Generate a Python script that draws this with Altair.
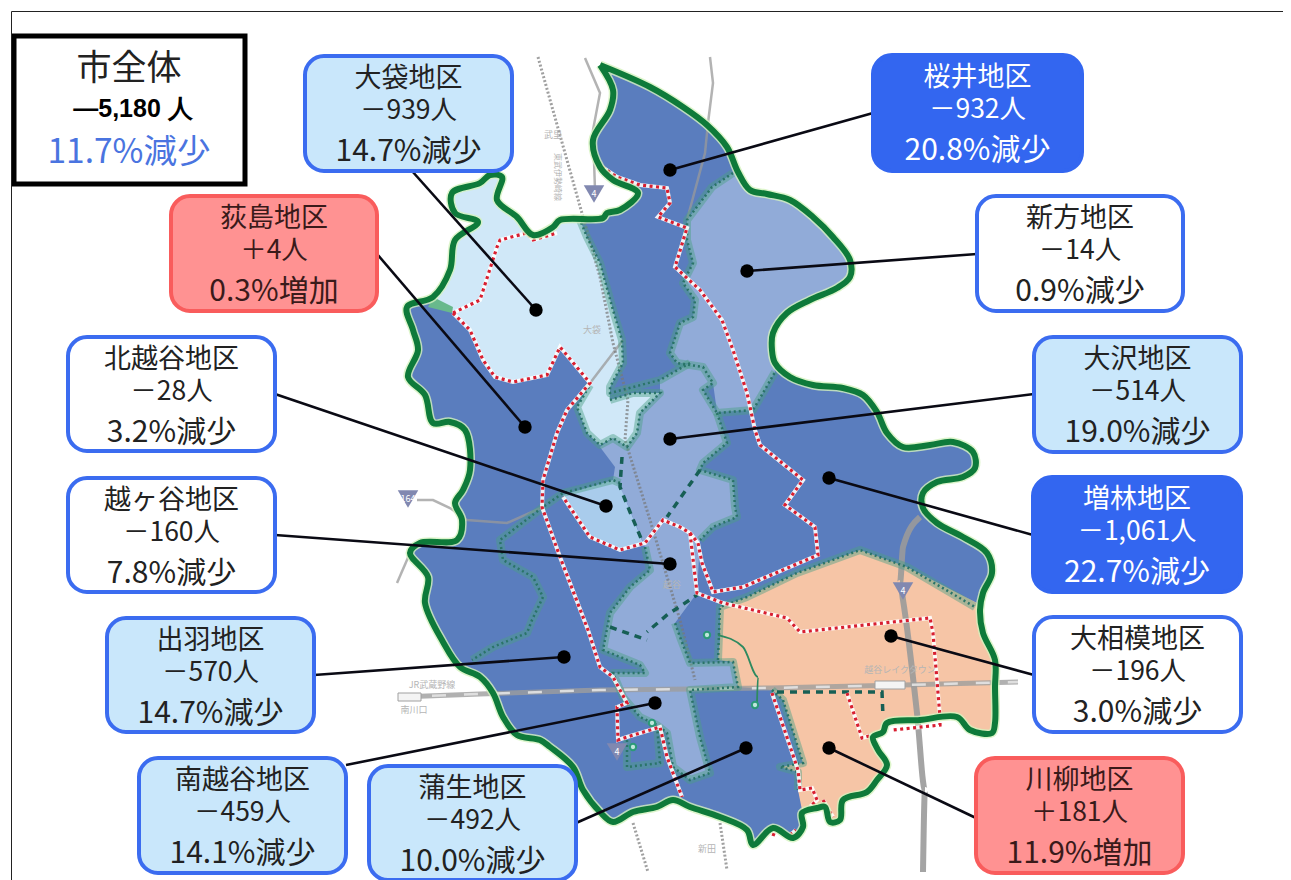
import altair as alt
import pandas as pd

# ---------- map shapes (picture pixel coordinates) ----------
city_outline = [(600,65),(650,87),(683,107),(707,125),(727,147),(738,172),(750,190),(767,194),(790,200),(813,217),(833,237),(850,260),(850,277),(837,288),(810,300),(787,313),(773,333),(772,350),(775,363),(790,377),(813,385),(843,388),(863,395),(877,412),(887,433),(903,447),(930,445),(953,442),(973,452),(975,468),(963,477),(937,482),(923,493),(923,508),(937,523),(963,537),(987,553),(992,573),(983,593),(980,610),(983,633),(995,660),(995,687),(995,723),(992,733),(970,730),(957,717),(920,720),(887,723),(883,732),(873,737),(878,750),(887,765),(877,780),(867,792),(843,800),(840,820),(830,822),(825,807),(817,808),(802,813),(803,827),(793,838),(773,828),(753,845),(747,830),(720,817),(690,807),(673,800),(657,807),(633,812),(613,822),(600,812),(583,790),(573,767),(550,747),(540,740),(517,735),(503,717),(493,693),(480,677),(460,667),(443,642),(425,603),(428,577),(410,553),(420,543),(457,540),(462,520),(455,503),(463,490),(470,470),(465,430),(450,422),(433,423),(425,395),(408,377),(418,350),(413,330),(407,307),(433,297),(450,270),(455,240),(478,222),(455,213),(452,193),(480,183),(490,175),(502,177),(497,200),(517,217),(533,235),(553,227),(560,220),(603,218),(607,213),(620,210),(638,193),(613,180),(600,167),(593,140),(610,110),(613,90)]
oobukuro = [(433,297),(450,270),(455,240),(478,222),(455,213),(452,193),(480,183),(490,175),(502,177),(497,200),(517,217),(533,235),(553,227),(560,220),(580,220),(587,237),(600,263),(613,310),(622,340),(623,363),(610,387),(610,400),(633,393),(660,393),(640,413),(637,433),(627,447),(613,438),(600,445),(587,433),(577,407),(590,385),(560,347),(547,375),(513,382),(495,377),(483,360),(470,330),(453,313)]
kitakoshigaya = [(563,495),(613,480),(620,483),(627,503),(643,543),(620,550),(590,537)]
niikata = [(733,173),(750,190),(767,194),(790,200),(813,217),(833,237),(850,260),(850,277),(837,288),(810,300),(787,313),(773,333),(772,350),(775,372),(763,393),(753,410),(717,412),(713,383),(703,367),(690,363),(677,363),(670,353),(680,323),(693,317),(695,300),(683,283),(693,263),(687,240),(687,220),(712,187)]
central = [(660,380),(690,363),(703,367),(713,383),(703,390),(717,413),(727,443),(703,463),(700,470),(733,480),(735,507),(737,517),(713,527),(700,540),(697,593),(675,623),(680,637),(690,663),(733,662),(738,687),(690,690),(700,737),(710,773),(690,780),(673,767),(667,733),(657,725),(640,717),(623,697),(613,673),(645,673),(640,665),(603,650),(610,613),(630,587),(650,570),(645,547),(627,503),(620,487),(613,480),(615,467),(600,447),(613,438),(627,447),(637,433),(640,413),(660,393)]
oosagami = [(720,607),(747,597),(797,573),(860,550),(907,567),(977,603),(983,633),(995,660),(995,687),(995,723),(992,733),(970,730),(957,717),(920,720),(887,723),(883,732),(873,737),(878,750),(887,765),(877,780),(867,792),(843,800),(840,820),(830,822),(825,807),(817,808),(802,810),(798,790),(798,772),(780,767),(803,763),(783,700),(772,690),(738,687),(733,662),(718,660),(720,640)]
river_sliver = [(820,220),(833,237),(847,258),(830,240)]
green_wedge = [(433,297),(453,307),(452,313),(428,307)]
region_shapes = [(city_outline,"#5A7DBE"),(oobukuro,"#D0E8F8"),(kitakoshigaya,"#A9CCEC"),(niikata,"#91ABD8"),(central,"#91ABD8"),(oosagami,"#F6C5A6"),(river_sliver,"#1C9FD8"),(green_wedge,"#68B98C")]

thin_roads = [
 [(585,58),(600,93),(593,130),(595,190)],
 [(710,57),(713,83),(708,123),(705,153),(687,220)],
 [(397,583),(410,553)],
 [(417,500),(433,500),(450,508),(467,520),(507,523),(543,507)],
 [(587,387),(623,340)],
]
wide_roads = [[(920,517),(903,547),(900,583),(903,600),(917,713),(925,790),(923,872)]]
railways = [
 [(538,57),(583,217),(600,277),(613,343),(628,400),(625,440),(650,520),(680,620),(695,680)],
 [(720,823),(727,870)],
 [(633,823),(648,872)],
]
musashino = [[(400,697),(480,694),(600,690),(693,689),(770,688),(903,685),(1018,682)]]
inner_borders = [
 [(733,173),(712,187),(687,220),(687,240),(693,263),(683,283),(695,300),(693,317),(680,323),(670,353),(677,363),(703,367),(713,383),(703,390),(717,413),(753,410),(763,393),(775,372)],
 [(717,413),(727,443),(703,463),(700,470),(733,480),(735,507),(737,517),(713,527),(700,540)],
 [(690,363),(660,380),(610,393),(610,387),(623,363),(622,340),(613,310),(600,263),(587,237),(580,220)],
 [(610,400),(633,393),(660,393),(640,413),(637,433),(627,447),(613,438),(600,445),(587,433),(577,407),(590,385)],
 [(620,483),(613,480),(563,493),(543,507),(500,540),(503,560),(533,577),(543,597),(532,620),(527,633),(493,647),(472,660)],
 [(645,547),(650,570),(630,587),(610,613),(603,650),(640,665),(645,673),(613,673),(623,697),(640,717),(657,725),(667,733),(673,767),(690,780),(710,773),(700,737),(690,690),(738,687),(733,662),(690,663),(680,637),(675,623)],
 [(718,660),(720,607),(747,597),(797,573),(860,550),(907,567),(975,607)],
 [(772,690),(783,700),(803,763),(780,767),(798,772),(798,790)],
 [(627,740),(627,767),(660,763),(657,725)],
]
dashed_borders = [
 [(622,457),(620,487),(630,512),(643,543)],
 [(700,470),(667,517)],
 [(700,593),(667,615),(647,632)],
 [(610,627),(647,640)],
 [(777,692),(882,692),(883,717)],
]
red_borders = [
 [(453,313),(480,300),(497,247),(500,240),(527,233),(533,240),(557,233)],
 [(453,313),(470,330),(483,360),(495,377),(513,382),(547,375),(560,347),(590,383),(567,410),(557,433),(543,480),(542,507),(560,557),(588,630),(600,667),(613,677),(627,703),(617,707),(618,740),(627,737),(660,727),(667,757),(682,797)],
 [(602,167),(617,177),(640,185),(667,188),(670,203),(658,217),(687,228),(675,267),(700,290),(722,320),(733,350),(747,393),(755,430),(760,445),(803,480),(785,505),(815,527),(818,555),(743,587),(713,592),(702,563),(698,543),(690,533),(680,527),(663,520),(645,543),(620,550),(590,537),(563,497)],
 [(690,533),(697,593),(723,603),(787,618),(800,632),(930,618),(933,633),(940,717),(940,725),(893,730)],
 [(847,693),(862,738),(873,735)],
 [(772,693),(798,770),(800,790),(812,788),(817,800),(810,807)],
 [(823,800),(833,817)],
 [(773,836),(776,828)],[(790,835),(796,830)],
]
arc_line = [[(718,635),(743,647),(758,677),(757,703)]]
arc_nodes_x = [707,755,633,652]
arc_nodes_y = [635,705,747,723]
shield_x = [594,903,617,408]
shield_y = [194,591,752,499]
shield_text = ["4","4","4","164"]
ghost_labels = ["武里","大袋","JR武蔵野線","南川口","越谷レイクタウン","新田","越谷"]
ghost_x = [553,592,432,414,900,707,672]
ghost_y = [135,330,685,710,670,849,585]
station_x1 = [398,875]
station_x2 = [421,905]
station_y1 = [693,681]
station_y2 = [701,689]

# ---------- callouts ----------
names = ["大袋地区","桜井地区","荻島地区","新方地区","北越谷地区","大沢地区","越ヶ谷地区","増林地区","出羽地区","大相模地区","南越谷地区","蒲生地区","川柳地区"]
changes = ["－939人","－932人","＋4人","－14人","－28人","－514人","－160人","－1,061人","－570人","－196人","－459人","－492人","＋181人"]
rates = ["14.7%減少","20.8%減少","0.3%増加","0.9%減少","3.2%減少","19.0%減少","7.8%減少","22.7%減少","14.7%減少","3.0%減少","14.1%減少","10.0%減少","11.9%増加"]
styles = ["light","solid","red","white","white","light","white","solid","light","white","light","light","red"]
box_x1 = [305,873,171,977,68,1034,68,1033,107,1034,139,369,976]
box_x2 = [512,1082,377,1183,275,1241,275,1241,314,1241,346,576,1183]
box_y1 = [56,55,196,196,337,337,478,477,618,617,758,766,758]
box_y2 = [171,171,311,311,451,452,592,592,732,732,873,880,873]
lead_x = [412,873,377,977,275,1034,275,1033,314,1034,346,576,976]
lead_y = [171,113,254,254,394,394,535,535,675,675,765,823,818]
dot_x = [536,670,525,747,606,670,670,829,564,891,655,746,829]
dot_y = [310,170,427,271,506,439,564,478,657,636,703,748,748]
fills = {"light":"#C9E7FB","solid":"#3366F0","red":"#FF9292","white":"#FFFFFF"}
strokes = {"light":"#3B6CF0","solid":"#3366F0","red":"#F95C5C","white":"#3B6CF0"}
texts = {"light":"#222222","solid":"#FFFFFF","red":"#3A1A1A","white":"#222222"}

W, H = 1275, 872
X = alt.X("x:Q", scale=alt.Scale(domain=[8, 1283], nice=False, zero=False), axis=None)
Y = alt.Y("y:Q", scale=alt.Scale(domain=[880, 8], nice=False, zero=False), axis=None)
X2 = alt.X2("x2:Q")
Y2 = alt.Y2("y2:Q")
FONT = "Noto Sans CJK JP"


def paths(groups):
    rows = []
    for g, pts in enumerate(groups):
        for i, (x, y) in enumerate(pts):
            rows.append({"g": g, "i": i, "x": x, "y": y})
    return pd.DataFrame(rows)


def line_layer(groups, **mark):
    return alt.Chart(paths(groups)).mark_line(clip=False, **mark).encode(
        x=X, y=Y, detail="g:N", order="i:Q")


features = []
for pts, col in region_shapes:
    ring = [list(p) for p in pts] + [list(pts[0])]
    features.append({"type": "Feature", "properties": {"fill": col},
                     "geometry": {"type": "Polygon", "coordinates": [ring]}})

regions = alt.Chart(alt.InlineData(values={"type": "FeatureCollection", "features": features},
                                   format=alt.DataFormat(type="json", property="features"))
                    ).mark_geoshape(stroke=None).encode(
    fill=alt.Fill("properties.fill:N", scale=None)
).project(type="identity", scale=1, translate=[-8, -8])

boxes = pd.DataFrame({"x": box_x1, "x2": box_x2, "y": box_y1, "y2": box_y2,
                      "f": [fills[s] for s in styles], "s": [strokes[s] for s in styles]})
box_layer = alt.Chart(boxes).mark_rect(cornerRadius=19, strokeWidth=4).encode(
    x=X, x2=X2, y=Y, y2=Y2, fill=alt.Fill("f:N", scale=None), stroke=alt.Stroke("s:N", scale=None))

leaders = pd.DataFrame({"x": lead_x, "y": lead_y, "x2": dot_x, "y2": dot_y})
leader_layer = alt.Chart(leaders).mark_rule(color="#0A0A14", strokeWidth=2.6).encode(x=X, y=Y, x2=X2, y2=Y2)
dots = pd.DataFrame({"x": dot_x, "y": dot_y})
dot_layer = alt.Chart(dots).mark_circle(color="#000000", size=180, opacity=1).encode(x=X, y=Y)

label_rows = []
for i, n in enumerate(names):
    cx = (box_x1[i] + box_x2[i]) / 2
    top = box_y1[i]
    c = texts[styles[i]]
    label_rows.append({"x": cx, "y": top + 23, "t": n, "c": c, "sz": 27})
    label_rows.append({"x": cx, "y": top + 55, "t": changes[i], "c": c, "sz": 26.5})
    label_rows.append({"x": cx, "y": top + 96, "t": rates[i], "c": c, "sz": 30})
labels = pd.DataFrame(label_rows)
label_layer = alt.Chart(labels).mark_text(font=FONT, baseline="middle", align="center").encode(
    x=X, y=Y, text="t:N", color=alt.Color("c:N", scale=None), size=alt.Size("sz:Q", scale=None))

# whole-city box
city_box = alt.Chart(pd.DataFrame({"x": [14], "x2": [245], "y": [36], "y2": [184]})).mark_rect(
    fill="#FFFFFF", stroke="#000000", strokeWidth=5).encode(x=X, x2=X2, y=Y, y2=Y2)
city_labels = pd.DataFrame({"x": [129, 129], "y": [69, 153],
                            "t": ["市全体", "11.7%減少"],
                            "c": ["#222222", "#4A74E0"], "sz": [35, 33.5]})
city_text = alt.Chart(city_labels).mark_text(font=FONT, baseline="middle", align="center").encode(
    x=X, y=Y, text="t:N", color=alt.Color("c:N", scale=None), size=alt.Size("sz:Q", scale=None))
city_total = alt.Chart(pd.DataFrame({"x": [133], "y": [109], "t": ["—5,180 人"]})).mark_text(
    font="Liberation Sans", fontSize=25, fontWeight="bold", color="#000000", baseline="middle").encode(x=X, y=Y, text="t:N")

frame = line_layer([[(1283, 11.5), (11.5, 11.5), (11.5, 880)]], color="#222222", strokeWidth=1)

ghost = alt.Chart(pd.DataFrame({"x": ghost_x, "y": ghost_y, "t": ghost_labels})).mark_text(
    font=FONT, fontSize=9, color="#B5B5B5", baseline="middle").encode(x=X, y=Y, text="t:N")
ghost_v = alt.Chart(pd.DataFrame({"x": [557], "y": [177], "t": ["東武伊勢崎線"]})).mark_text(
    font=FONT, fontSize=8, color="#B5B5B5", angle=90, baseline="middle").encode(x=X, y=Y, text="t:N")
stations = alt.Chart(pd.DataFrame({"x": station_x1, "x2": station_x2, "y": station_y1, "y2": station_y2})).mark_rect(
    fill="#F4F4F4", stroke="#A0A0A0", strokeWidth=1).encode(x=X, x2=X2, y=Y, y2=Y2)
shields = alt.Chart(pd.DataFrame({"x": shield_x, "y": shield_y})).mark_point(
    shape="triangle-down", filled=True, size=420, color="#8188B0", opacity=1).encode(x=X, y=Y)
shield_nums = alt.Chart(pd.DataFrame({"x": shield_x, "y": shield_y, "t": shield_text})).mark_text(
    font=FONT, fontSize=9, color="#FFFFFF", baseline="middle").encode(x=X, y=Y, text="t:N")
nodes = alt.Chart(pd.DataFrame({"x": arc_nodes_x, "y": arc_nodes_y})).mark_circle(
    size=40, opacity=1, fill="#BFE6DC", stroke="#2B9A78", strokeWidth=2).encode(x=X, y=Y)

outline_closed = [city_outline + city_outline[:1]]
chart = alt.layer(
    regions,
    line_layer(thin_roads, color="#9A9A9A", strokeWidth=2.5, opacity=0.75),
    line_layer(wide_roads, color="#9A9A9A", strokeWidth=6, opacity=0.9, interpolate="monotone"),
    line_layer(railways, color="#777777", strokeWidth=3, strokeDash=[2, 2], opacity=0.7),
    line_layer(musashino, color="#9E9E9E", strokeWidth=5, opacity=0.8),
    line_layer(musashino, color="#E4E4E4", strokeWidth=2.5, strokeDash=[14, 18], opacity=0.9),
    stations,
    line_layer(inner_borders, color="#4B9F86", strokeWidth=8, opacity=0.45, strokeJoin="round"),
    line_layer(inner_borders, color="#2A7468", strokeWidth=2.5, strokeDash=[2, 3]),
    line_layer(dashed_borders, color="#175F55", strokeWidth=3.5, strokeDash=[7, 6]),
    line_layer(arc_line, color="#2E8A60", strokeWidth=1.8, interpolate="monotone"),
    nodes,
    line_layer(red_borders, color="#FFFFFF", strokeWidth=4, opacity=0.9),
    line_layer(red_borders, color="#D81E30", strokeWidth=3.2, strokeDash=[3, 3.5]),
    line_layer(outline_closed, color="#D5F2BE", strokeWidth=9, strokeJoin="round", opacity=0.8, interpolate="catmull-rom"),
    line_layer(outline_closed, color="#0E7A3A", strokeWidth=6, strokeJoin="round", interpolate="catmull-rom"),
    shields, shield_nums, ghost, ghost_v,
    leader_layer, dot_layer, box_layer, label_layer, city_box, city_text, city_total, frame,
).properties(width=W, height=H, padding=0, autosize=alt.AutoSizeParams(type="none"), background="#FFFFFF"
).configure_view(stroke=None)

chart.save("out.html", embed_options={"renderer": "svg", "actions": False})
